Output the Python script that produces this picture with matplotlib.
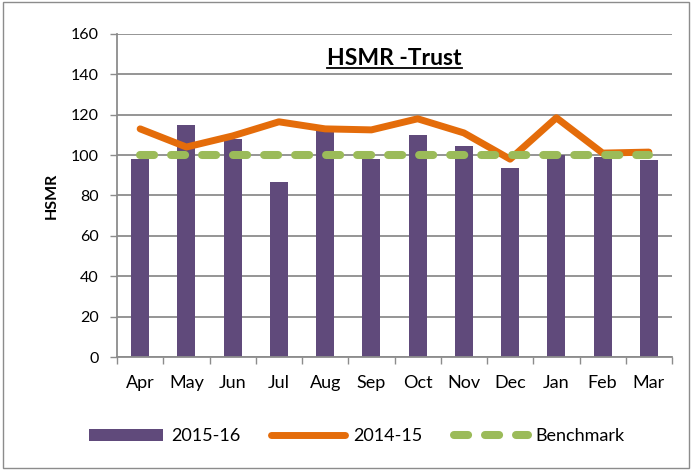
import matplotlib
matplotlib.use("Agg")
import matplotlib.pyplot as plt
from matplotlib.patches import Rectangle
from matplotlib.lines import Line2D
import numpy as np

months = ["Apr", "May", "Jun", "Jul", "Aug", "Sep", "Oct", "Nov", "Dec", "Jan", "Feb", "Mar"]
hsmr_2015_16 = [98, 115, 108, 86.5, 112, 98, 110, 104.5, 93.5, 100, 99, 97.5]
hsmr_2014_15 = [113, 104, 109.5, 116.5, 113, 112.5, 118, 111, 98, 118.5, 101, 101.5]
benchmark = [100] * 12
yticks = list(range(0, 161, 20))

plt.rcParams['font.family'] = ['Lato', 'DejaVu Sans']

fig = plt.figure(figsize=(6.92, 4.70), dpi=100)
fig.patches.append(Rectangle((0.004, 0.004), 0.992, 0.992, transform=fig.transFigure,
                             fill=False, edgecolor="#8c8c8c", linewidth=1))
ax = fig.add_axes([0.1691, 0.2404, 0.802, 0.6873])

x = np.arange(len(months))
h_bar = ax.bar(x, hsmr_2015_16, width=0.39, color="#604A7B", zorder=2, label="2015-16")
h_line, = ax.plot(x, hsmr_2014_15, color="#E46C0A", linewidth=5.0, solid_capstyle="round",
                  solid_joinstyle="round", zorder=3, label="2014-15")
h_bench, = ax.plot(x, benchmark, color="#9BBB59", linewidth=5.8, dashes=(1.75, 2.1),
                   dash_capstyle="round", zorder=4, label="Benchmark")

ax.set_xlim(-0.5, len(months) - 0.5)
ax.set_ylim(0, 160)
ax.set_yticks(yticks)
ax.set_yticklabels([str(v) for v in yticks], fontsize=11.5)
ax.set_xticks(x)
ax.set_xticklabels(months, fontsize=13)
ax.tick_params(axis='x', which='major', length=0, pad=13)
ax.set_xticks(np.arange(-0.5, len(months), 1), minor=True)
ax.tick_params(axis='x', which='minor', length=5, color="#8c8c8c", width=1)
ax.tick_params(axis='y', length=5, color="#8c8c8c", width=1, pad=8)
ax.grid(axis='y', color="#8c8c8c", linewidth=1.3, zorder=0)
ax.set_axisbelow(True)
for s in ["top", "right"]:
    ax.spines[s].set_visible(False)
for s in ["left", "bottom"]:
    ax.spines[s].set_color("#8c8c8c")
    ax.spines[s].set_linewidth(1.3)
ax.set_ylabel("HSMR", fontsize=11.5, fontweight="bold", labelpad=9)

t = ax.text(0.5, 0.925, "HSMR -Trust", transform=ax.transAxes, ha="center", va="center",
            fontsize=16.5, fontweight="bold", zorder=5)
fig.canvas.draw()
bb = t.get_window_extent().transformed(fig.transFigure.inverted())
fig.lines.append(Line2D([bb.x0, bb.x1], [bb.y0 + 0.001, bb.y0 + 0.001], transform=fig.transFigure,
                        color="black", linewidth=1.3))

fig.legend([h_bar, h_line, h_bench], ["2015-16", "2014-15", "Benchmark"],
           loc="center", bbox_to_anchor=(0.516, 0.072), ncol=3, frameon=False,
           fontsize=13, handlelength=4.1, columnspacing=1.7, handletextpad=0.45)

fig.savefig("out.png", dpi=100)
